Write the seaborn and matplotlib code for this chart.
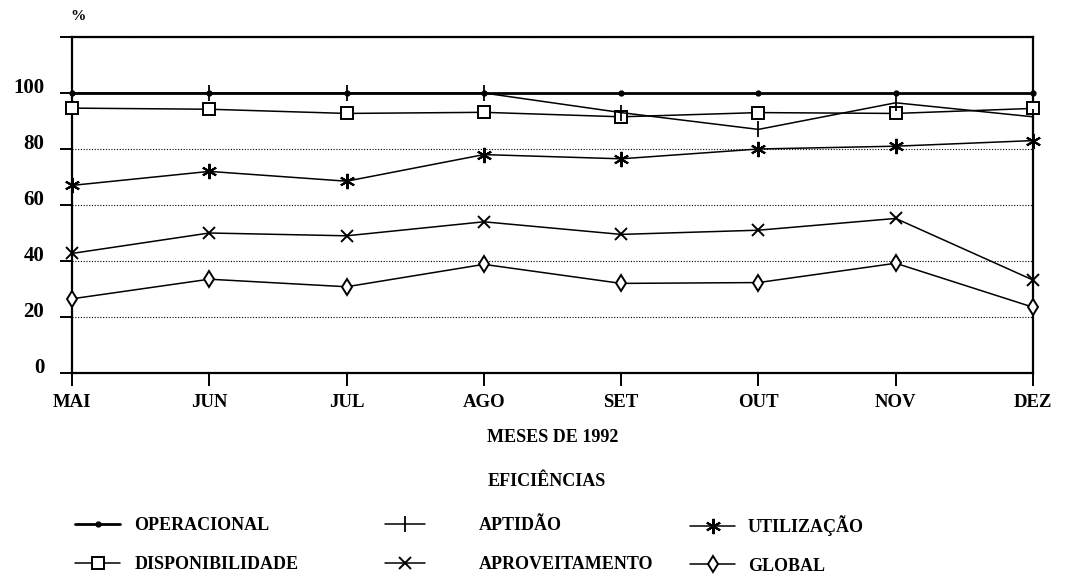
import matplotlib
matplotlib.use("Agg")
import matplotlib.pyplot as plt
import pandas as pd
import seaborn as sns

months = ["MAI", "JUN", "JUL", "AGO", "SET", "OUT", "NOV", "DEZ"]
operacional = [100, 100, 100, 100, 100, 100, 100, 100]
aptidao = [100, 100, 100, 100, 93, 87, 96.5, 91.5]
disponibilidade = [94.6, 94.2, 92.7, 93.1, 91.5, 93.0, 92.7, 94.5]
utilizacao = [67, 72, 68.5, 78, 76.5, 80, 81, 83]
aproveitamento = [42.7, 50, 49, 54, 49.5, 51, 55.2, 33.2]
global_ = [26.5, 33.5, 30.8, 38.8, 32, 32.3, 39.2, 23.5]

series_names = ["OPERACIONAL", "DISPONIBILIDADE", "APTIDÃO",
                "APROVEITAMENTO", "UTILIZAÇÃO", "GLOBAL"]
series_values = [operacional, disponibilidade, aptidao,
                 aproveitamento, utilizacao, global_]
yticks = [0, 20, 40, 60, 80, 100, 120]
ytick_labels = ["0", "20", "40", "60", "80", "100", ""]

sns.set_theme(style="ticks")
plt.rcParams["font.family"] = ["Liberation Serif", "DejaVu Serif"]
plt.rcParams.update({"text.color": "black", "axes.labelcolor": "black",
                     "xtick.color": "black", "ytick.color": "black",
                     "xtick.bottom": True, "ytick.left": True})

styles = {
    "OPERACIONAL": dict(marker="o", markersize=3.5, lw=2.0, mfc="black", mew=1),
    "DISPONIBILIDADE": dict(marker="s", markersize=9, lw=1.1, mfc="white", mew=1.4),
    "APTIDÃO": dict(marker="|", markersize=12, lw=1.1, mfc="black", mew=1.3),
    "APROVEITAMENTO": dict(marker="x", markersize=8, lw=1.1, mfc="black", mew=1.4),
    "UTILIZAÇÃO": dict(marker=(6, 2, 0), markersize=11, lw=1.1, mfc="black", mew=1.5),
    "GLOBAL": dict(marker="d", markersize=8.5, lw=1.1, mfc="white", mew=1.4),
}

fig = plt.figure(figsize=(10.68, 5.75), dpi=100)
ax = fig.add_axes([72 / 1068, 1 - 373 / 575, (1033 - 72) / 1068, (373 - 37) / 575])

handles = {}
for name, vals in zip(series_names, series_values):
    df = pd.DataFrame({"mes": months, "valor": vals})
    st = styles[name]
    sns.lineplot(data=df, x="mes", y="valor", ax=ax, color="black",
                 marker=st["marker"], markersize=st["markersize"],
                 linewidth=st["lw"], markerfacecolor=st["mfc"],
                 markeredgecolor="black", markeredgewidth=st["mew"],
                 label=name, clip_on=False, zorder=3)
    handles[name] = ax.lines[-1]
for ln in ax.lines:
    ln.set_clip_on(False)
ax.get_legend().remove()

ax.set_xlim(0, len(months) - 1)
ax.set_ylim(0, 120)
ax.set_yticks(yticks)
ax.set_yticklabels(ytick_labels)
ax.set_ylabel("")
ax.set_xlabel("MESES DE 1992", fontsize=13, fontweight="bold", labelpad=13,
              color="black")

ax.yaxis.grid(True, linestyle=(0, (1, 1.5)), color="black", linewidth=0.8)
ax.xaxis.grid(False)
for sp in ax.spines.values():
    sp.set_visible(True)
    sp.set_color("black")
    sp.set_linewidth(1.6)
ax.tick_params(axis="both", direction="out", length=9, width=1.4,
               color="black", labelcolor="black", bottom=True, left=True)
ax.tick_params(axis="y", pad=11, labelsize=15)
ax.tick_params(axis="x", pad=6, labelsize=13.5)
for lab in ax.get_xticklabels():
    lab.set_fontweight("bold")
for lab in ax.get_yticklabels():
    lab.set_fontweight("semibold")
    lab.set_verticalalignment("baseline")

fig.text(78 / 1068, 1 - 17 / 575, "%", fontsize=11, fontweight="bold",
         ha="center", va="center", color="black")
fig.text(547 / 1068, 1 - 481 / 575, "EFICIÊNCIAS", fontsize=13,
         fontweight="bold", ha="center", va="center", color="black")

cols = [
    (["OPERACIONAL", "DISPONIBILIDADE"], 75, 2.5, 0.8),
    (["APTIDÃO", "APROVEITAMENTO"], 385, 2.2, 3.0),
    (["UTILIZAÇÃO", "GLOBAL"], 690, 2.5, 0.7),
]
for names, x0, hl, tp in cols:
    leg = fig.legend([handles[n] for n in names], names, loc="center left",
                     bbox_to_anchor=(x0 / 1068, 1 - 545 / 575), frameon=False,
                     ncol=1, handlelength=hl, handletextpad=tp, borderpad=0,
                     borderaxespad=0, labelspacing=1.2, numpoints=1,
                     labelcolor="black",
                     prop=dict(family="Liberation Serif", weight="bold", size=13))

fig.savefig("out.png", dpi=100)
